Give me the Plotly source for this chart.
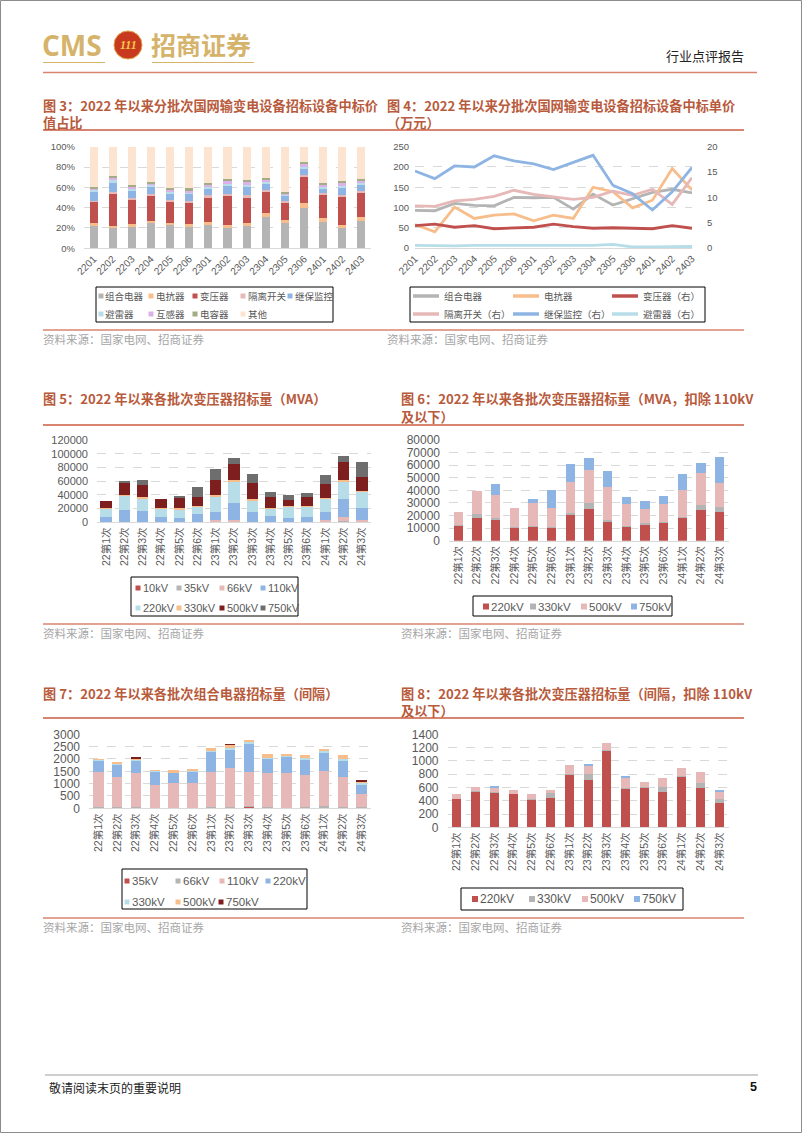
import plotly.graph_objects as go

# ---------------- data ----------------
periods = ['2201', '2202', '2203', '2204', '2205', '2206', '2301', '2302', '2303',
           '2304', '2305', '2306', '2401', '2402', '2403']
batches = ['22第1次', '22第2次', '22第3次', '22第4次', '22第5次', '22第6次', '23第1次', '23第2次',
           '23第3次', '23第4次', '23第5次', '23第6次', '24第1次', '24第2次', '24第3次']

# Fig 3: share of awarded value (%)
share_gis = [22, 20, 21, 25, 23, 22, 24, 20, 23, 31, 25, 40, 26, 20, 27]
share_reactor = [2.5, 2, 2.5, 2, 2, 1.5, 1.5, 3, 1.5, 4, 3, 4.5, 4, 3, 4]
share_transformer = [21.5, 32, 24.5, 24, 21, 22, 24.5, 28, 25.5, 20, 17, 26, 22.5, 27.5, 23]
share_switch = [1, 1.5, 2, 2, 1.5, 1.5, 2, 2, 2, 2, 1.5, 1.5, 2, 2, 2]
share_protection = [9, 10, 7, 8, 6.5, 7, 7, 9, 9, 7, 5.5, 7, 4.5, 7.5, 7]
share_arrester = [1.5, 1.5, 1, 1, 1, 1, 1, 1, 1, 1, 1, 1, 1, 1, 1]
share_instr = [2, 3, 3, 2, 2, 1, 3, 4, 4, 3, 1.5, 4, 3, 4, 3]
share_capacitor = [1, 1.5, 1, 1, 2, 3, 1.5, 1.5, 1, 1, 0.5, 1, 1, 1, 1.5]
share_other = [39.5, 28.5, 38, 35, 41, 41, 35.5, 31.5, 33, 31, 45, 15, 36, 34, 31.5]

# Fig 4: unit price (万元)
price_gis = [93, 92, 110, 105, 104, 125, 124, 125, 96, 133, 106, 122, 137, 145, 136]
price_reactor = [58, 40, 101, 73, 81, 84, 67, 81, 73, 150, 139, 99, 118, 196, 143]
price_transformer = [4.4, 4.7, 4.1, 4.4, 3.8, 4.0, 4.1, 4.7, 4.2, 3.9, 4.0, 3.9, 3.8, 4.4, 3.9]
price_switch = [8.3, 8.2, 9.3, 9.6, 10.2, 11.4, 10.6, 10.1, 9.6, 10.0, 11.2, 10.4, 11.6, 8.6, 13.9]
price_protection = [15.2, 13.7, 16.2, 16.0, 18.2, 17.2, 16.6, 15.5, 16.9, 18.3, 12.4, 10.7, 7.5, 11.1, 15.9]
price_arrester = [0.5, 0.4, 0.4, 0.5, 0.5, 0.6, 0.5, 0.5, 0.6, 0.5, 0.7, 0.2, 0.2, 0.3, 0.3]

# Fig 5: transformer tender volume (MVA)
mva_10 = [0, 0, 0, 0, 0, 0, 0, 0, 0, 0, 0, 0, 0, 0, 0]
mva_35 = [200, 200, 300, 200, 100, 200, 1500, 1000, 300, 300, 200, 200, 1000, 1500, 1000]
mva_66 = [300, 300, 200, 100, 100, 200, 1500, 2500, 300, 300, 200, 200, 2000, 6800, 3000]
mva_110 = [7500, 17500, 16000, 8000, 5600, 11300, 12500, 24200, 14000, 8600, 6400, 7900, 12500, 25700, 16400]
mva_220 = [12000, 20400, 18500, 11100, 13200, 11100, 21900, 30600, 17500, 11200, 16000, 14500, 18500, 25300, 24300]
mva_330 = [500, 1600, 1500, 1100, 1500, 700, 2100, 3200, 1400, 600, 700, 700, 1000, 2200, 1300]
mva_500 = [10500, 18300, 17900, 13500, 15500, 13900, 22200, 23000, 23400, 16400, 9500, 12900, 20900, 26900, 20600]
mva_750 = [0, 700, 7300, 0, 2900, 13600, 15600, 9800, 13600, 7300, 6800, 5800, 13100, 8300, 20900]

# Fig 6: transformer volume excl. 110kV and below (MVA)
ex_220 = [11900, 17700, 16700, 10300, 11100, 10600, 21200, 25400, 15600, 10900, 13200, 14300, 18300, 24400, 22500]
ex_330 = [300, 3200, 1000, 700, 400, 400, 800, 4800, 900, 600, 800, 700, 700, 3900, 4500]
ex_500 = [10800, 18800, 18600, 14700, 18200, 14700, 24400, 26000, 26100, 17400, 10900, 14400, 21300, 25200, 19100]
ex_750 = [0, 0, 8500, 0, 3100, 14600, 14300, 9500, 13000, 5500, 6900, 6400, 12400, 8500, 20700]

# Fig 7: GIS tender volume (bays)
gis_35 = [0, 0, 0, 0, 0, 0, 0, 0, 60, 0, 0, 0, 0, 0, 40]
gis_66 = [60, 40, 60, 30, 30, 30, 40, 60, 20, 40, 30, 40, 100, 40, 20]
gis_110 = [1420, 1220, 1360, 920, 1010, 980, 1450, 1590, 1400, 1380, 1390, 1310, 1410, 1240, 520]
gis_220 = [450, 500, 510, 540, 380, 450, 810, 715, 1150, 600, 680, 610, 760, 650, 390]
gis_330 = [20, 30, 30, 10, 30, 40, 50, 85, 50, 30, 40, 80, 60, 70, 50]
gis_500 = [30, 80, 60, 20, 100, 80, 80, 110, 90, 150, 20, 110, 60, 160, 40]
gis_750 = [0, 0, 10, 0, 0, 0, 0, 20, 0, 0, 0, 0, 0, 0, 90]

# Fig 8: transformer volume (bays, excl. 110kV and below)
tr_220 = [420, 535, 520, 495, 410, 435, 795, 705, 1145, 575, 597, 537, 765, 587, 366]
tr_330 = [0, 10, 15, 0, 10, 75, 5, 90, 15, 15, 5, 75, 5, 75, 60]
tr_500 = [80, 60, 55, 65, 80, 50, 140, 125, 105, 160, 80, 125, 125, 170, 100]
tr_750 = [0, 0, 25, 0, 0, 0, 0, 15, 0, 15, 0, 0, 0, 0, 35]

# ---------------- styles ----------------
W, H = 802, 1133
GRAY, ORANGE, RED, PINK = '#b4b4b4', '#f7bd8a', '#c0504d', '#e6b9b8'
BLUE, LBLUE, LAV, OLIVE, PEACH = '#8eb4e3', '#b7dee8', '#dcb0e8', '#a3ad85', '#fde4d0'
DRED, DGRAY = '#7e1f1f', '#6e6e6e'
TICK = '#595959'
NUMF = 'Liberation Sans, Arial, Noto Sans CJK SC'
CJK = 'Noto Sans CJK SC'
TITLE_C = '#b85a3c'
LINE_C = '#d9846f'


def fx(p):
    return p / W


def fy(p):
    return 1 - p / H


fig = go.Figure()


def bars(x, series, xa, ya, width):
    for name, vals, col in series:
        fig.add_trace(go.Bar(x=x, y=vals, name=name, marker=dict(color=col, line=dict(width=0)),
                             width=width, xaxis=xa, yaxis=ya, showlegend=False))


s3 = [('组合电器', share_gis, GRAY), ('电抗器', share_reactor, ORANGE), ('变压器', share_transformer, RED),
      ('隔离开关', share_switch, PINK), ('继保监控', share_protection, BLUE), ('避雷器', share_arrester, LBLUE),
      ('互感器', share_instr, LAV), ('电容器', share_capacitor, OLIVE), ('其他', share_other, PEACH)]
bars(periods, s3, 'x', 'y', 0.42)

s4 = [('组合电器', price_gis, GRAY, 'y2'), ('电抗器', price_reactor, ORANGE, 'y2'),
      ('变压器（右）', price_transformer, RED, 'y3'), ('隔离开关（右）', price_switch, PINK, 'y3'),
      ('继保监控（右）', price_protection, BLUE, 'y3'), ('避雷器（右）', price_arrester, LBLUE, 'y3')]
for name, vals, col, ya in s4:
    fig.add_trace(go.Scatter(x=periods, y=vals, name=name, mode='lines', line=dict(color=col, width=2.8),
                             xaxis='x2', yaxis=ya, showlegend=False))

s5 = [('10kV', mva_10, RED), ('35kV', mva_35, GRAY), ('66kV', mva_66, PINK), ('110kV', mva_110, BLUE),
      ('220kV', mva_220, LBLUE), ('330kV', mva_330, ORANGE), ('500kV', mva_500, DRED), ('750kV', mva_750, DGRAY)]
bars(batches, s5, 'x3', 'y4', 0.62)

s6 = [('220kV', ex_220, RED), ('330kV', ex_330, GRAY), ('500kV', ex_500, PINK), ('750kV', ex_750, BLUE)]
bars(batches, s6, 'x4', 'y5', 0.5)

s7 = [('35kV', gis_35, RED), ('66kV', gis_66, GRAY), ('110kV', gis_110, PINK), ('220kV', gis_220, BLUE),
      ('330kV', gis_330, LBLUE), ('500kV', gis_500, ORANGE), ('750kV', gis_750, DRED)]
bars(batches, s7, 'x5', 'y6', 0.55)

s8 = [('220kV', tr_220, RED), ('330kV', tr_330, GRAY), ('500kV', tr_500, PINK), ('750kV', tr_750, BLUE)]
bars(batches, s8, 'x6', 'y7', 0.48)


def xax(x0, x1, anchor, angle, size, rng=None):
    d = dict(domain=[fx(x0), fx(x1)], anchor=anchor, type='category', tickangle=angle, automargin=False,
             tickfont=dict(family=NUMF, size=size, color=TICK), showgrid=False, showline=True,
             linecolor='#d9d9d9', linewidth=1, ticks='', zeroline=False, fixedrange=True)
    if rng is not None:
        d['range'] = rng
    return d


def yax(top, bot, anchor, rng, dtick, size, suffix='', side='left', grid=True, standoff=6):
    return dict(domain=[fy(bot), fy(top)], anchor=anchor, range=rng, dtick=dtick, tick0=0, automargin=False,
                tickformat='d', ticksuffix=suffix, side=side, showgrid=grid, gridcolor='#d9d9d9',
                griddash='dash', gridwidth=1, zeroline=False, showline=False, ticks='',
                ticklabelstandoff=standoff,
                tickfont=dict(family=NUMF, size=size, color=TICK), fixedrange=True)


yax3 = yax(146.7, 248, 'x2', [0, 20], 5, 9.5, side='right', grid=False, standoff=14)
yax3['overlaying'] = 'y2'

fig.update_layout(
    width=W, height=H, margin=dict(l=0, r=0, t=0, b=0, pad=0, autoexpand=False), paper_bgcolor='white',
    plot_bgcolor='rgba(0,0,0,0)', barmode='stack', showlegend=False,
    xaxis=xax(84, 371, 'y', -45, 10),
    yaxis=yax(146.7, 248.3, 'x', [0, 100], 20, 9.5, suffix='%', standoff=8),
    xaxis2=xax(415, 692, 'y2', -45, 10, rng=[0, 14]),
    yaxis2=yax(146.7, 248, 'x2', [0, 250], 50, 9.5, standoff=5),
    yaxis3=yax3,
    xaxis3=xax(97, 371, 'y4', -90, 10.5),
    yaxis4=yax(440, 522.3, 'x3', [0, 120000], 20000, 11, standoff=8),
    xaxis4=xax(449, 729, 'y5', -90, 10.5),
    yaxis5=yax(440, 540.7, 'x4', [0, 80000], 10000, 12, standoff=8),
    xaxis5=xax(89, 371, 'y6', -90, 10.5),
    yaxis6=yax(734.3, 808.3, 'x5', [0, 3000], 500, 12, standoff=8),
    xaxis6=xax(447.5, 728.5, 'y7', -90, 10.5),
    yaxis7=yax(734.3, 827.3, 'x6', [0, 1400], 200, 12, standoff=8),
)

shapes = []
annots = []


def hline(x0, x1, y, color, width):
    shapes.append(dict(type='line', xref='paper', yref='paper', x0=fx(x0), x1=fx(x1), y0=fy(y), y1=fy(y),
                       line=dict(color=color, width=width)))


def rect(x0, y0, x1, y1, fill=None, line='black', lw=1):
    d = dict(type='rect', xref='paper', yref='paper', x0=fx(x0), x1=fx(x1), y0=fy(y1), y1=fy(y0),
             line=dict(color=line if line else 'rgba(0,0,0,0)', width=lw if line else 0))
    if fill:
        d['fillcolor'] = fill
    shapes.append(d)


def text(x, y, s, size, color='#333', family=CJK, xanchor='left', bold=False):
    annots.append(dict(xref='paper', yref='paper', x=fx(x), y=fy(y), text=s, showarrow=False,
                       xanchor=xanchor, yanchor='middle', borderpad=0,
                       font=dict(family=family, size=size, color=color, weight='bold' if bold else 'normal')))


# page frame
rect(0.5, 0.5, 801.5, 1132.5, line='#8c8c8c', lw=1)

# header
GOLD = '#d5b36b'
text(41, 45, 'CMS', 28, GOLD, 'Open Sans', bold=True)
shapes.append(dict(type='circle', xref='paper', yref='paper', x0=fx(114), x1=fx(142), y0=fy(59), y1=fy(31),
                   fillcolor='#c73a1f', line=dict(color='#e0a040', width=1)))
text(128, 45, '<i>111</i>', 12, '#f5c84a', 'Liberation Serif', xanchor='center', bold=True)
text(150, 44, '招商证券', 25, GOLD, CJK, bold=True)
hline(43, 105, 62.5, GOLD, 1.2)
hline(152, 254, 62.5, GOLD, 1.2)
text(745, 56, '行业点评报告', 13, '#222', CJK, xanchor='right')
hline(43, 757, 72.5, LINE_C, 1.5)

# titles
TS = 13.2
text(42, 105, '图 3：2022 年以来分批次国网输变电设备招标设备中标价', TS, TITLE_C, CJK, bold=True)
text(42, 122, '值占比', TS, TITLE_C, CJK, bold=True)
text(386, 105, '图 4：2022 年以来分批次国网输变电设备招标设备中标单价', TS, TITLE_C, CJK, bold=True)
text(386, 122, '（万元）', TS, TITLE_C, CJK, bold=True)
hline(43, 744, 130, LINE_C, 2)

text(42, 399, '图 5：2022 年以来各批次变压器招标量（MVA）', TS, TITLE_C, CJK, bold=True)
text(400, 399, '图 6：2022 年以来各批次变压器招标量（MVA，扣除 110kV', TS, TITLE_C, CJK, bold=True)
text(400, 417, '及以下）', TS, TITLE_C, CJK, bold=True)
hline(43, 744, 425, LINE_C, 2)

text(42, 693, '图 7：2022 年以来各批次组合电器招标量（间隔）', TS, TITLE_C, CJK, bold=True)
text(400, 693, '图 8：2022 年以来各批次变压器招标量（间隔，扣除 110kV', TS, TITLE_C, CJK, bold=True)
text(400, 710, '及以下）', TS, TITLE_C, CJK, bold=True)
hline(43, 744, 718, LINE_C, 2)

# sources
SRC = '资料来源：国家电网、招商证券'
for yline, ytxt, xr in [(330, 339, 387), (624, 633, 401), (918, 927, 401)]:
    hline(43, 744, yline, LINE_C, 1.5)
    text(42, ytxt, SRC, 11.5, '#a6a6a6', CJK)
    text(xr - 1, ytxt, SRC, 11.5, '#a6a6a6', CJK)

# footer
hline(45, 758, 1075, '#a0a0a0', 1.2)
text(48, 1087, '敬请阅读末页的重要说明', 12, '#222', CJK)
text(758, 1087, '5', 12.5, '#111', 'Liberation Sans', xanchor='right', bold=True)


# ---------------- legends ----------------
def sq_entry(mx, my, col, label, size, family, sq=6):
    rect(mx - sq / 2, my - sq / 2, mx + sq / 2, my + sq / 2, fill=col, line=None)
    text(mx + sq / 2 + 1, my, label, size, TICK, family)


# Fig 3
rect(96, 287, 333, 322)
pos3 = [(101, 296), (151, 296), (195, 296), (243, 296), (290, 296),
        (101, 314), (151, 314), (195, 314), (243, 314)]
for (mx, my), (name, _, col) in zip(pos3, s3):
    sq_entry(mx, my, col, name, 9.5, CJK, sq=5)

# Fig 4
rect(410, 287, 705, 322)
pos4 = [(413, 296), (513, 296), (612, 296), (413, 314), (513, 314), (612, 314)]
for (lx, ly), (name, _, col, _ya) in zip(pos4, s4):
    shapes.append(dict(type='line', xref='paper', yref='paper', x0=fx(lx), x1=fx(lx + 26), y0=fy(ly), y1=fy(ly),
                       line=dict(color=col, width=3.5)))
    text(lx + 30, ly, name, 9.5, TICK, CJK)

# Fig 5
rect(131, 577, 298, 616)
pos5 = [(138, 588), (179, 588), (222, 588), (263, 588), (138, 608), (179, 608), (222, 608), (263, 608)]
for (mx, my), (name, _, col) in zip(pos5, s5):
    sq_entry(mx, my, col, name, 11, NUMF, sq=5)

# Fig 6
rect(473, 596, 672, 616)
pos6 = [(486, 606.5), (533, 606.5), (584, 606.5), (634, 606.5)]
for (mx, my), (name, _, col) in zip(pos6, s6):
    sq_entry(mx, my, col, name, 11.5, NUMF)

# Fig 7
rect(122, 869, 307, 909)
pos7 = [(127, 881), (178, 881), (222, 881), (268, 881), (127, 902), (178, 902), (221, 902)]
for (mx, my), (name, _, col) in zip(pos7, s7):
    sq_entry(mx, my, col, name, 11.5, NUMF, sq=5)

# Fig 8
rect(461, 888, 683, 910)
pos8 = [(475, 899), (532, 899), (585, 899), (637, 899)]
for (mx, my), (name, _, col) in zip(pos8, s8):
    sq_entry(mx, my, col, name, 12, NUMF)

fig.update_layout(shapes=shapes, annotations=annots)
fig.write_html('out.html', config={'displayModeBar': False},
               post_script="document.body.style.margin='0';document.body.style.overflow='hidden';")
